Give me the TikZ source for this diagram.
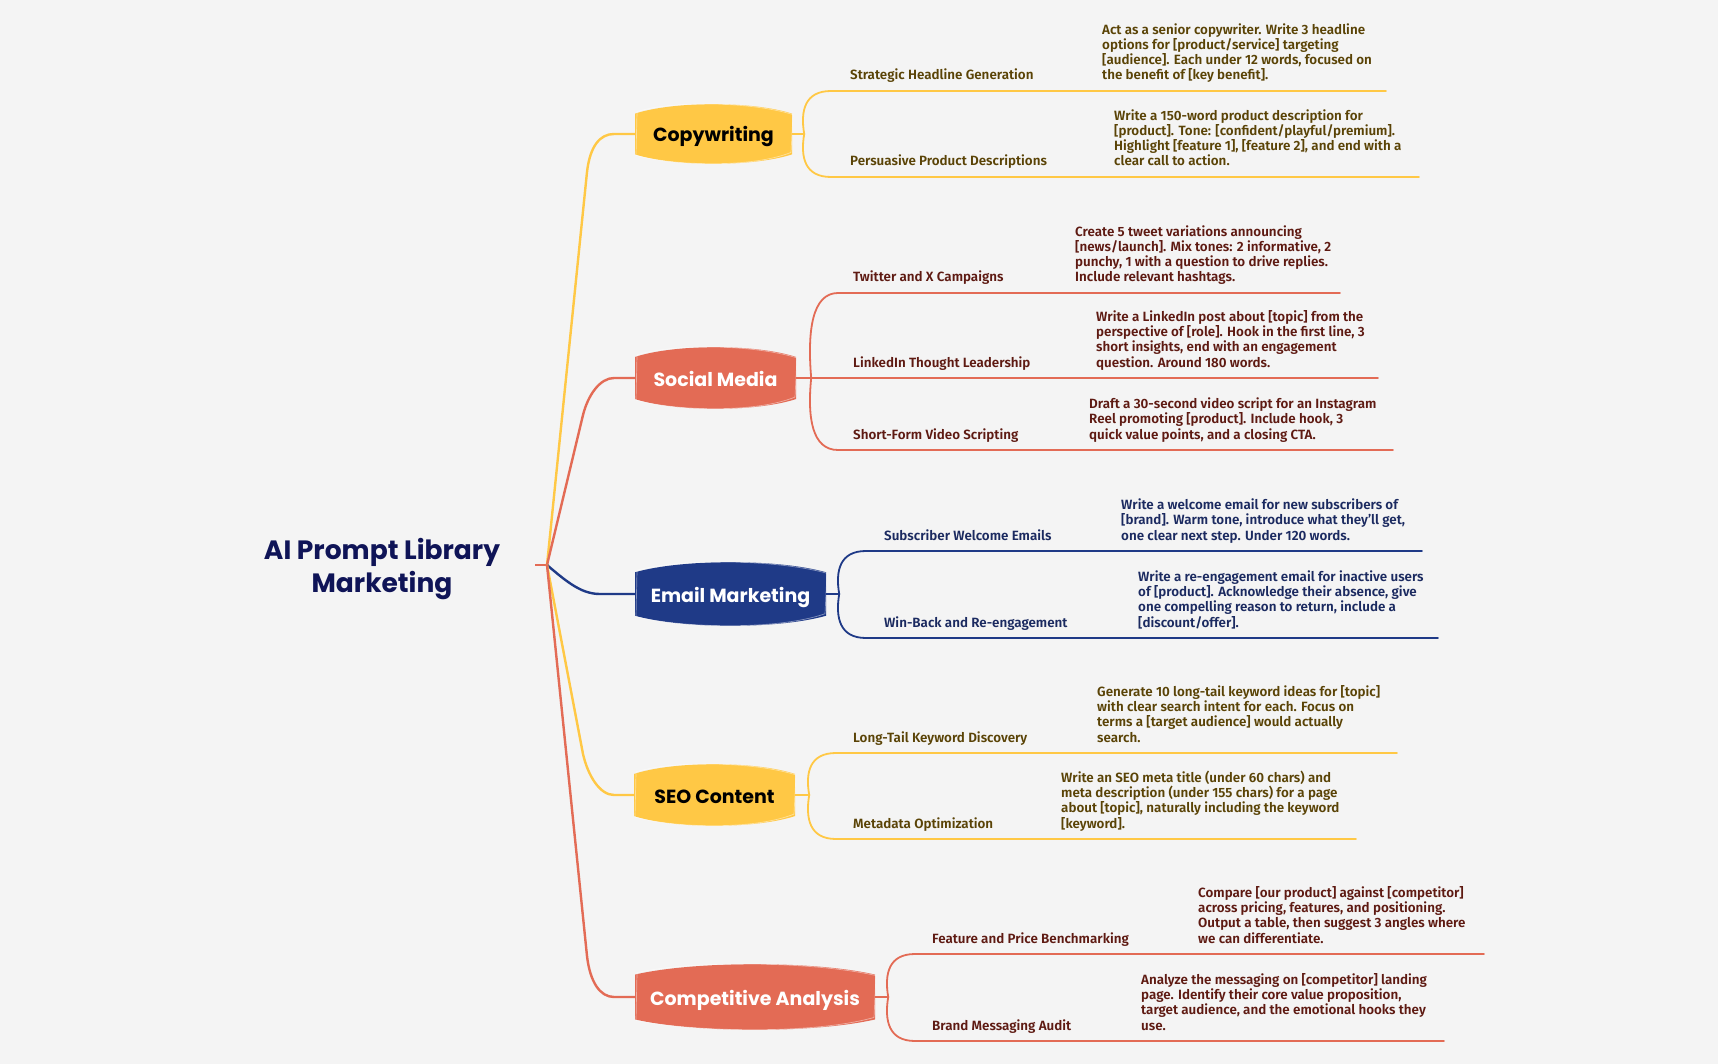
\documentclass[tikz,border=0pt]{standalone}
\usepackage{fontspec}
\setmainfont{Fira Sans}
\newfontfamily\popfont{Poppins}
\newfontfamily\firamed{Fira Sans SemiBold}
\definecolor{bg}{HTML}{F4F4F4}
\definecolor{cyel}{HTML}{FFC845}
\definecolor{cred}{HTML}{E36B55}
\definecolor{cnav}{HTML}{1F3A87}
\definecolor{tolive}{HTML}{5A4306}
\definecolor{tmaroon}{HTML}{5E1A12}
\definecolor{tnavy}{HTML}{1B2A60}
\definecolor{ttitle}{HTML}{0F1457}
\tikzset{
  mainline/.style={line width=2.4pt, line cap=round, line join=round},
  subline/.style={line width=1.8pt, line cap=round},
  mtitle/.style={font=\popfont\bfseries\fontsize{19}{23}\selectfont},
  sublabel/.style={anchor=base west, inner sep=0pt, font=\firamed\fontsize{13.4}{15}\selectfont},
  prompt/.style={anchor=base west, inner sep=0pt, align=left, font=\firamed\fontsize{13.4}{15.3}\selectfont},
}
% name, cx, cy, w, h, fill, text colour, text
\newcommand\MBox[8]{%
  \fill[#6] ({#2-#4/2},{#3-0.34*#5}) .. controls ({#2-#4/4},{#3-0.55*#5}) and ({#2+#4/4},{#3-0.55*#5}) .. ({#2+#4/2},{#3-0.34*#5})
     -- ({#2+#4/2},{#3+0.34*#5}) .. controls ({#2+#4/4},{#3+0.55*#5}) and ({#2-#4/4},{#3+0.55*#5}) .. ({#2-#4/2},{#3+0.34*#5}) -- cycle;
  \draw[white, opacity=0.45, line width=0.7pt] ({#2-#4/2+2},{#3-0.34*#5-2}) .. controls ({#2-#4/4},{#3-0.55*#5-1}) and ({#2+#4/4},{#3-0.55*#5+1}) .. ({#2+#4/2+1},{#3-0.34*#5+1})
     -- ({#2+#4/2-1},{#3+0.34*#5-2}) .. controls ({#2+#4/4},{#3+0.55*#5+1}) and ({#2-#4/4},{#3+0.55*#5-1}) .. ({#2-#4/2+1},{#3+0.34*#5+1}) -- cycle;
  \node[mtitle, text=#7, minimum width=#4, minimum height=#5, inner sep=0pt] (#1) at (#2,#3) {\raisebox{-8pt}[0pt][0pt]{#8}};
}
% colour, start coordinate, dy, curve end x, y, line end x
\newcommand\SubB[6]{%
  \draw[#1, subline] (#2) .. controls +(-4,{0.55*#3}) and +(-26,0) .. (#4,#5) -- (#6,#5);
}
\begin{document}
\begin{tikzpicture}[x=1pt,y=-1pt]
\fill[bg] (0,0) rectangle (1718,1064);
\useasboundingbox (0,0) rectangle (1718,1064);

% title
\node[font=\popfont\bfseries\fontsize{26.5}{33}\selectfont, text=ttitle, align=center] (title) at (382,569) {AI Prompt Library\\Marketing};
\coordinate (root) at (547,565);
\coordinate (rootstub) at (535,565);
\draw[cred, line width=2pt] (rootstub) -- (root);

% main boxes
\MBox{cw}{713.5}{134}{157}{60}{cyel}{black}{Copywriting}
\MBox{sm}{715.5}{378}{161}{62}{cred}{white}{Social Media}
\MBox{em}{730.5}{594}{191}{64}{cnav}{white}{Email Marketing}
\MBox{seo}{714.5}{795}{161}{62}{cyel}{black}{SEO Content}
\MBox{ca}{755}{997}{240}{66}{cred}{white}{Competitive Analysis}

% main connectors
\draw[cyel, mainline] (root) -- (587,172) .. controls (590,146) and (600,134) .. (614,134) -- (cw.west);
\draw[cred, mainline] (root) -- (583,415) .. controls (588,395) and (600,378) .. (614,378) -- (sm.west);
\draw[cnav, mainline] (root) .. controls (568,583) and (582,594) .. (600,594) -- (em.west);
\draw[cyel, mainline] (root) -- (583,754) .. controls (588,776) and (600,795) .. (614,795) -- (seo.west);
\draw[cred, mainline] (root) -- (587,956) .. controls (590,982) and (600,997) .. (614,997) -- (ca.west);

% ---------- Copywriting
\draw[cyel, subline] (cw.east) -- ++(12,0) coordinate (cwb);
\SubB{cyel}{cwb}{-43}{831}{91}{1386}
\SubB{cyel}{cwb}{43}{831}{177}{1419}
\node[sublabel, text=tolive] (cw1) at (850,80) {Strategic Headline Generation};
\node[prompt, text=tolive] (cw1p) at (1102,80) {Act as a senior copywriter. Write 3 headline\\options for [product/service] targeting\\{}[audience]. Each under 12 words, focused on\\the benefit of [key benefit].};
\node[sublabel, text=tolive] (cw2) at (850,166) {Persuasive Product Descriptions};
\node[prompt, text=tolive] (cw2p) at (1114,166) {Write a 150-word product description for\\{}[product]. Tone: [confident/playful/premium].\\Highlight [feature 1], [feature 2], and end with a\\clear call to action.};

% ---------- Social Media
\draw[cred, subline] (sm.east) -- ++(15,0) coordinate (smb);
\SubB{cred}{smb}{-85}{838}{293}{1340}
\draw[cred, subline] (smb) -- (1378,378);
\SubB{cred}{smb}{72}{838}{450}{1393}
\node[sublabel, text=tmaroon] (sm1) at (853,282) {Twitter and X Campaigns};
\node[prompt, text=tmaroon] (sm1p) at (1075,282) {Create 5 tweet variations announcing\\{}[news/launch]. Mix tones: 2 informative, 2\\punchy, 1 with a question to drive replies.\\Include relevant hashtags.};
\node[sublabel, text=tmaroon] (sm2) at (853,367) {LinkedIn Thought Leadership};
\node[prompt, text=tmaroon] (sm2p) at (1096,367) {Write a LinkedIn post about [topic] from the\\perspective of [role]. Hook in the first line, 3\\short insights, end with an engagement\\question. Around 180 words.};
\node[sublabel, text=tmaroon] (sm3) at (853,439) {Short-Form Video Scripting};
\node[prompt, text=tmaroon] (sm3p) at (1089,439) {Draft a 30-second video script for an Instagram\\Reel promoting [product]. Include hook, 3\\quick value points, and a closing CTA.};

% ---------- Email Marketing
\draw[cnav, subline] (em.east) -- ++(13,0) coordinate (emb);
\SubB{cnav}{emb}{-43}{866}{551}{1422}
\SubB{cnav}{emb}{44}{866}{638}{1438}
\node[sublabel, text=tnavy] (em1) at (884,540) {Subscriber Welcome Emails};
\node[prompt, text=tnavy] (em1p) at (1121,540) {Write a welcome email for new subscribers of\\{}[brand]. Warm tone, introduce what they’ll get,\\one clear next step. Under 120 words.};
\node[sublabel, text=tnavy] (em2) at (884,627) {Win-Back and Re-engagement};
\node[prompt, text=tnavy] (em2p) at (1138,627) {Write a re-engagement email for inactive users\\of [product]. Acknowledge their absence, give\\one compelling reason to return, include a\\{}[discount/offer].};

% ---------- SEO Content
\draw[cyel, subline] (seo.east) -- ++(14,0) coordinate (seob);
\SubB{cyel}{seob}{-42}{836}{753}{1397}
\SubB{cyel}{seob}{44}{836}{839}{1356}
\node[sublabel, text=tolive] (seo1) at (853,742) {Long-Tail Keyword Discovery};
\node[prompt, text=tolive] (seo1p) at (1097,742) {Generate 10 long-tail keyword ideas for [topic]\\with clear search intent for each. Focus on\\terms a [target audience] would actually\\search.};
\node[sublabel, text=tolive] (seo2) at (853,828) {Metadata Optimization};
\node[prompt, text=tolive] (seo2p) at (1061,828) {Write an SEO meta title (under 60 chars) and\\meta description (under 155 chars) for a page\\about [topic], naturally including the keyword\\{}[keyword].};

% ---------- Competitive Analysis
\draw[cred, subline] (ca.east) -- ++(13,0) coordinate (cab);
\SubB{cred}{cab}{-43}{915}{954}{1484}
\SubB{cred}{cab}{44}{915}{1041}{1444}
\node[sublabel, text=tmaroon] (ca1) at (932,943) {Feature and Price Benchmarking};
\node[prompt, text=tmaroon] (ca1p) at (1198,943) {Compare [our product] against [competitor]\\across pricing, features, and positioning.\\Output a table, then suggest 3 angles where\\we can differentiate.};
\node[sublabel, text=tmaroon] (ca2) at (932,1030) {Brand Messaging Audit};
\node[prompt, text=tmaroon] (ca2p) at (1141,1030) {Analyze the messaging on [competitor] landing\\page. Identify their core value proposition,\\target audience, and the emotional hooks they\\use.};
\end{tikzpicture}
\end{document}
